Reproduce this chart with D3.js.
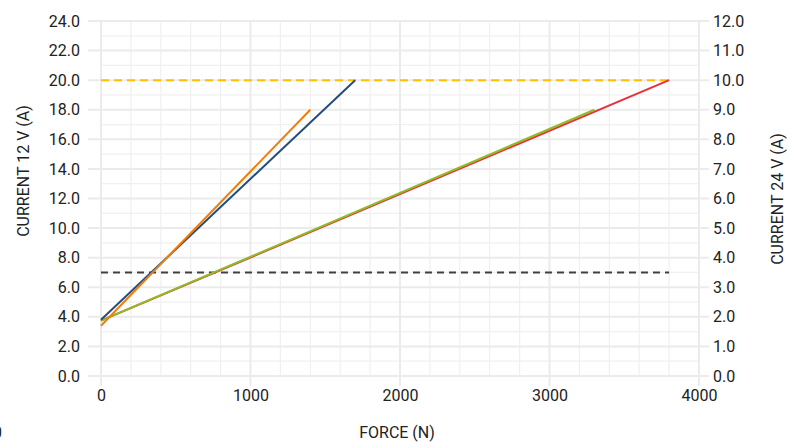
<!DOCTYPE html>
<html>
<head>
<meta charset="utf-8">
<script src="https://cdn.jsdelivr.net/npm/d3@7"></script>
<style>
  body { margin: 0; background: #fff; }
  text { font-family: Roboto, "DejaVu Sans", sans-serif; fill: #222; }
</style>
</head>
<body>
<div id="chart-area"><svg></svg></div>
<script>
const CHART_SIZE = { width: 790, height: 442 };
const MARGIN = { left: 101, right: 91, top: 21, bottom: 66 };
const WIDTH = CHART_SIZE.width - (MARGIN.left + MARGIN.right);
const HEIGHT = CHART_SIZE.height - (MARGIN.top + MARGIN.bottom);

// ticks
const forceTicks = [0, 1000, 2000, 3000, 4000];
const current12Ticks = [0, 2, 4, 6, 8, 10, 12, 14, 16, 18, 20, 22, 24];
const current24Ticks = [0, 1, 2, 3, 4, 5, 6, 7, 8, 9, 10, 11, 12];

// 12 V series (left axis)
const blueForce = [0, 1700];
const blueCurrent = [3.8, 20];
const orangeForce = [0, 1400];
const orangeCurrent = [3.4, 18];

// 24 V series (right axis)
const greenForce = [0, 3300];
const greenCurrent = [1.87, 9.0];
const redForce = [0, 3800];
const redCurrent = [1.87, 10.0];

// limits (left axis)
const limitForce = [0, 3800];
const limitMax = [20, 20];
const limitMin = [7, 7];

const svg = d3
  .select("#chart-area svg")
  .attr("width", CHART_SIZE.width)
  .attr("height", CHART_SIZE.height);

const g = svg
  .append("g")
  .attr("transform", `translate(${MARGIN.left},${MARGIN.top})`);

const x = d3.scaleLinear().domain([0, 4000]).range([0, WIDTH]);
const yL = d3.scaleLinear().domain([0, 24]).range([HEIGHT, 0]);
const yR = d3.scaleLinear().domain([0, 12]).range([HEIGHT, 0]);

// minor grid
g.append("g")
  .selectAll("line")
  .data(d3.range(1, 24, 2))
  .join("line")
  .attr("x1", 0)
  .attr("x2", WIDTH)
  .attr("y1", d => yL(d))
  .attr("y2", d => yL(d))
  .attr("stroke", "#f0f0f0")
  .attr("stroke-width", 1.2);

g.append("g")
  .selectAll("line")
  .data(d3.range(200, 4000, 200).filter(d => d % 1000 !== 0))
  .join("line")
  .attr("x1", d => x(d))
  .attr("x2", d => x(d))
  .attr("y1", 0)
  .attr("y2", HEIGHT)
  .attr("stroke", "#f0f0f0")
  .attr("stroke-width", 1.2);

// major grid with tick extensions
g.append("g")
  .selectAll("line")
  .data(current12Ticks)
  .join("line")
  .attr("x1", -13)
  .attr("x2", WIDTH + 10)
  .attr("y1", d => yL(d))
  .attr("y2", d => yL(d))
  .attr("stroke", "#ebebeb")
  .attr("stroke-width", 2);

g.append("g")
  .selectAll("line")
  .data(forceTicks)
  .join("line")
  .attr("x1", d => x(d))
  .attr("x2", d => x(d))
  .attr("y1", 0)
  .attr("y2", HEIGHT + 10)
  .attr("stroke", "#ebebeb")
  .attr("stroke-width", 2);

// axes (labels only)
const xAxis = d3.axisBottom(x).tickValues(forceTicks).tickSize(0).tickPadding(14).tickFormat(d3.format("d"));
const yAxisL = d3.axisLeft(yL).tickValues(current12Ticks).tickSize(0).tickPadding(21).tickFormat(d3.format(".1f"));
const yAxisR = d3.axisRight(yR).tickValues(current24Ticks).tickSize(0).tickPadding(14).tickFormat(d3.format(".1f"));

const styleAxis = sel => {
  sel.select(".domain").remove();
  sel.selectAll("text").attr("font-size", 16).attr("fill", "#222");
};

g.append("g").attr("transform", `translate(0,${HEIGHT})`).call(xAxis).call(styleAxis);
g.append("g").call(yAxisL).call(styleAxis);
g.append("g").attr("transform", `translate(${WIDTH},0)`).call(yAxisR).call(styleAxis);

// axis titles
g.append("text")
  .attr("transform", `translate(${-72},${150}) rotate(-90)`)
  .attr("text-anchor", "middle")
  .attr("font-size", 16)
  .text("CURRENT 12 V (A)");

g.append("text")
  .attr("transform", `translate(${WIDTH + 84},${178}) rotate(-90)`)
  .attr("text-anchor", "middle")
  .attr("font-size", 16)
  .text("CURRENT 24 V (A)");

g.append("text")
  .attr("x", 296)
  .attr("y", HEIGHT + 62)
  .attr("text-anchor", "middle")
  .attr("font-size", 16)
  .text("FORCE (N)");

svg.append("text")
  .attr("x", 2)
  .attr("y", 438)
  .attr("text-anchor", "end")
  .attr("font-size", 16)
  .text("0");

// lines
const pts = (xs, ys) => xs.map((v, i) => [v, ys[i]]);
const lineL = d3.line().x(d => x(d[0])).y(d => yL(d[1]));
const lineR = d3.line().x(d => x(d[0])).y(d => yR(d[1]));

g.append("path")
  .attr("d", lineL(pts(limitForce, limitMax)))
  .attr("fill", "none")
  .attr("stroke", "#ffc000")
  .attr("stroke-width", 2)
  .attr("stroke-dasharray", "8,5");

g.append("path")
  .attr("d", lineL(pts(limitForce, limitMin)))
  .attr("fill", "none")
  .attr("stroke", "#404040")
  .attr("stroke-width", 2)
  .attr("stroke-dasharray", "7,5");

const series = [
  { d: lineR(pts(redForce, redCurrent)), color: "#e8313b" },
  { d: lineR(pts(greenForce, greenCurrent)), color: "#8fbd24" },
  { d: lineL(pts(blueForce, blueCurrent)), color: "#264c7c" },
  { d: lineL(pts(orangeForce, orangeCurrent)), color: "#f07d0a" }
];

g.append("g")
  .selectAll("path")
  .data(series)
  .join("path")
  .attr("d", s => s.d)
  .attr("fill", "none")
  .attr("stroke", s => s.color)
  .attr("stroke-width", 2);
</script>
</body>
</html>
